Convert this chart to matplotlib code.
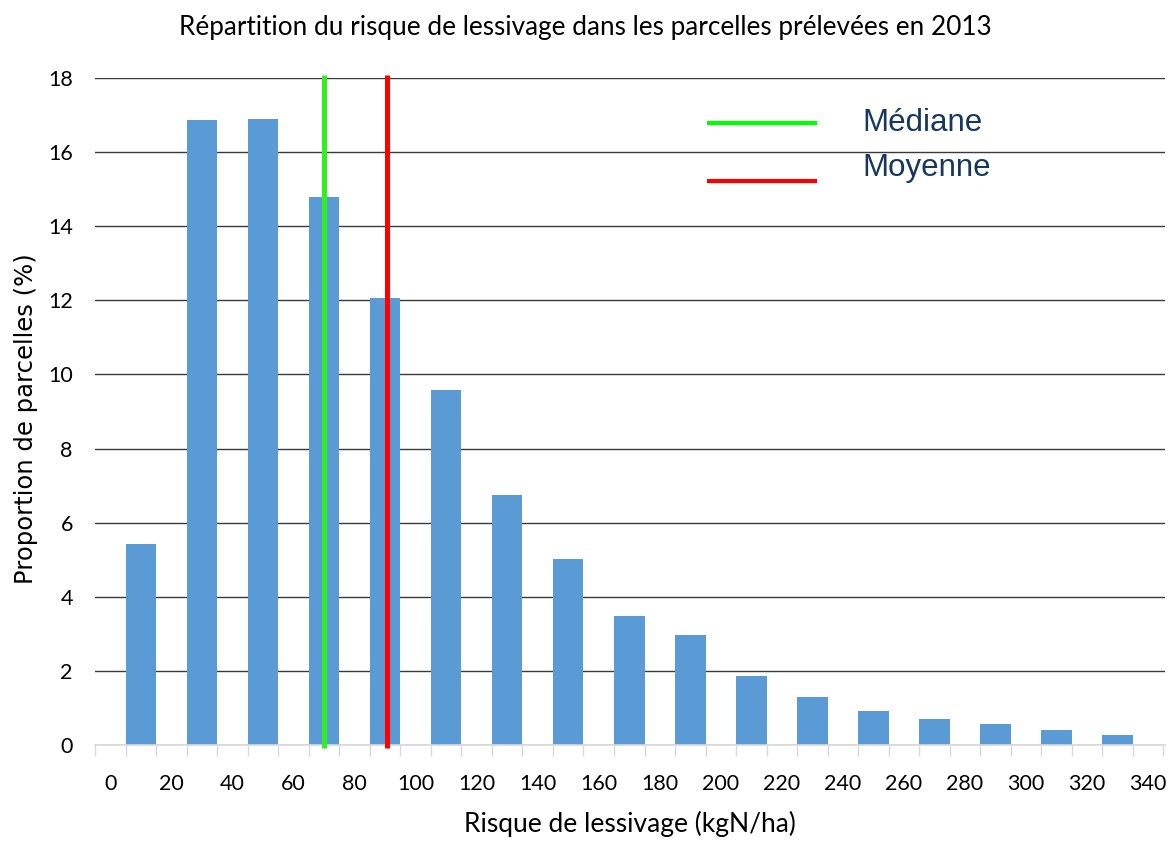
import numpy as np
import matplotlib.pyplot as plt
from matplotlib.ticker import FixedLocator

# histogram classes (centre of each 20 kgN/ha class) and share of plots (%)
classes = [10, 30, 50, 70, 90, 110, 130, 150, 170, 190, 210, 230, 250, 270, 290, 310, 330]
shares = [5.43, 16.87, 16.9, 14.78, 12.05, 9.57, 6.75, 5.02, 3.48, 2.97, 1.86,
          1.29, 0.93, 0.71, 0.56, 0.41, 0.28]
median = 70
mean = 90.5
xtick_labels = list(range(0, 341, 20))
ytick_labels = list(range(0, 19, 2))

bar_color = '#5B9BD5'
text_font = ['Lato', 'DejaVu Sans']
legend_font = ['Liberation Sans', 'DejaVu Sans']

fig = plt.figure(figsize=(11.69, 8.44), dpi=100)
ax = fig.add_axes([95 / 1169, 1 - 745 / 844, 1070 / 1169, 667 / 844])

ax.bar(classes, shares, width=10, color=bar_color, zorder=2)

# median and mean lines
ax.plot([median, median], [-0.08, 18.08], color='#33ee22', lw=3.6,
        zorder=3, clip_on=False, solid_capstyle='butt')
ax.plot([mean, mean], [-0.08, 18.08], color='#ff0000', lw=3.6,
        zorder=3, clip_on=False, solid_capstyle='butt')

ax.set_xlim(-5, 345.5)
ax.set_ylim(0, 18)

ax.set_yticks(ytick_labels)
ax.set_yticklabels([str(v) for v in ytick_labels], family=text_font, fontsize=15.5)
ax.tick_params(axis='y', length=0, pad=16)
ax.yaxis.grid(True, color='#3a3a3a', lw=1.0, zorder=0)
ax.set_axisbelow(True)

ax.set_xticks(xtick_labels)
ax.set_xticklabels([str(v) for v in xtick_labels], family=text_font, fontsize=15.5)
ax.xaxis.set_minor_locator(FixedLocator(np.arange(-5, 346, 10)))
ax.tick_params(axis='x', which='major', length=0, pad=21)
ax.tick_params(axis='x', which='minor', length=8, width=1, color='#d9d9d9')

for side in ['left', 'top', 'right']:
    ax.spines[side].set_visible(False)
ax.spines['bottom'].set_color('#d9d9d9')
ax.spines['bottom'].set_linewidth(1.2)

ax.set_xlabel('Risque de lessivage (kgN/ha)', family=text_font, fontsize=19,
              labelpad=12)
ax.set_ylabel('Proportion de parcelles (%)', family='DejaVu Sans', fontsize=17.5)
ax.yaxis.set_label_coords(-0.0535, 0.49)

fig.suptitle('Répartition du risque de lessivage dans les parcelles prélevées en 2013',
             family=text_font, fontsize=18.8, x=585 / 1169, y=1 - 28 / 844, va='center')

# hand-made legend
ax.plot([0.5724, 0.6743], [0.933, 0.933], transform=ax.transAxes, color='#00ff00',
        lw=3, clip_on=False, solid_capstyle='butt')
ax.plot([0.5724, 0.6743], [0.845, 0.845], transform=ax.transAxes, color='#ff0000',
        lw=3, clip_on=False, solid_capstyle='butt')
ax.text(0.7168, 0.933, 'Médiane', transform=ax.transAxes, color='#17375E',
        family=legend_font, fontsize=22.5, va='center')
ax.text(0.7168, 0.865, 'Moyenne', transform=ax.transAxes, color='#17375E',
        family=legend_font, fontsize=22.5, va='center')

fig.savefig('out.png', dpi=100)
